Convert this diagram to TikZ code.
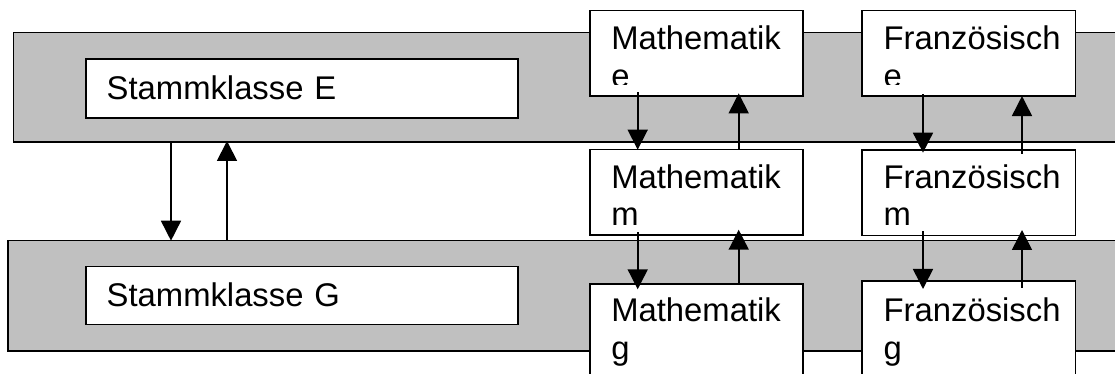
\documentclass[tikz,border=0pt]{standalone}
\usepackage{fontspec}
\setmainfont{Liberation Sans}
\usetikzlibrary{arrows.meta}
\definecolor{bandgray}{RGB}{192,192,192}
\begin{document}
\begin{tikzpicture}[x=0.75pt,y=-0.75pt,
  every node/.style={inner sep=0pt,outer sep=0pt},
  band/.style={draw=black,fill=bandgray,line width=1.2pt,rectangle,anchor=north west,minimum width=900pt},
  cell/.style={draw=black,fill=white,line width=1.2pt,rectangle,anchor=north west},
  course/.style={cell,minimum width=160pt,minimum height=64pt},
  lbl/.style={anchor=base west,font=\fontsize{24.6}{28}\selectfont,text width=250pt,align=left},
  arr/.style={line width=1.2pt,-{Triangle[length=15pt,width=15pt]}}]
\path[use as bounding box,clip] (0,0) rectangle (1115,374);

% class bands
\node[band,minimum height=82.2pt] (bandE) at (13.3,32.7) {};
\node[band,minimum height=82.5pt] (bandG) at (8,240.7) {};

% home classes
\node[cell,minimum width=324.2pt,minimum height=44pt] (stE) at (85.7,59.3) {};
\node[cell,minimum width=324.2pt,minimum height=43.5pt] (stG) at (85.7,266.7) {};
\node[lbl] (stEtxt) at (106.7,100) {Stammklasse E};
\node[lbl] (stGtxt) at (106.7,306) {Stammklasse G};

% course groups
\node[course] (mathE) at (589.7,10.7) {};
\node[course] (mathM) at (589.7,149.7) {};
\node[course,minimum height=90pt] (mathG) at (589.7,284) {};
\node[course] (frE) at (862,10.7) {};
\node[course] (frM) at (862,150) {};
\node[course,minimum height=92pt] (frG) at (862,281) {};

\begin{scope}
  \clip (589.7,10.7) rectangle (1080,85);
  \node[lbl] (mathEtxt) at (611.3,50) {Mathematik\\e};
  \node[lbl] (frEtxt) at (883.7,50) {Französisch\\e};
\end{scope}
\node[lbl] (mathMtxt) at (611.3,188.3) {Mathematik\\m};
\node[lbl] (frMtxt) at (883.7,188.3) {Französisch\\m};
\node[lbl] (mathGtxt) at (611.3,321.7) {Mathematik\\g};
\node[lbl] (frGtxt) at (883.7,321.7) {Französisch\\g};

% moves between the home classes
\draw[arr] (171,0 |- bandE.south) -- (171,0 |- bandG.north);
\draw[arr] (227,0 |- bandG.north) -- ([yshift=1pt]227,0 |- bandE.south);

% moves between the course levels
\draw[arr] ([yshift=3pt]637.7,0 |- mathE.south) -- (637.7,0 |- mathM.north);
\draw[arr] (738.7,0 |- mathM.north) -- ([yshift=2pt]738.7,0 |- mathE.south);
\draw[arr] ([yshift=1.5pt]923,0 |- frE.south) -- ([yshift=-2pt]923,0 |- frM.north);
\draw[arr] ([yshift=-3pt]1022,0 |- frM.north) -- (1022,0 |- frE.south);

\draw[arr] ([yshift=2pt]637.7,0 |- mathM.south) -- ([yshift=-4pt]637.7,0 |- mathG.north);
\draw[arr] (738.7,0 |- mathG.north) -- ([yshift=4pt]738.7,0 |- mathM.south);
\draw[arr] ([yshift=3pt]923,0 |- frM.south) -- ([yshift=-6pt]923,0 |- frG.north);
\draw[arr] ([yshift=-5pt]1022,0 |- frG.north) -- ([yshift=4pt]1022,0 |- frM.south);
\end{tikzpicture}
\end{document}
